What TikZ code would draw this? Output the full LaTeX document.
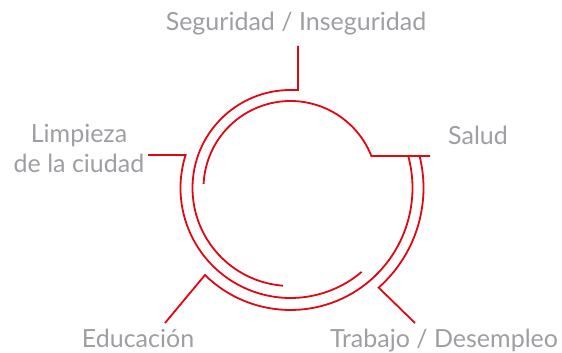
\documentclass[tikz,border=0pt]{standalone}
\usepackage{fontspec}
\setmainfont{Lato}
\usetikzlibrary{calc}
\definecolor{ringred}{RGB}{227,6,19}
\definecolor{labelgrey}{RGB}{158,158,163}
\begin{document}
\begin{tikzpicture}[x=1pt,y=1pt,
  ring/.style={draw=ringred, line width=1.8pt},
  lbl/.style={text=labelgrey, font=\fontsize{25}{30}\selectfont, inner sep=0pt, anchor=base}]
\useasboundingbox (0,0) rectangle (562,353);
\coordinate (c) at (290.5,165);
% labels
\node[lbl] (seg) at (296,322) {Seguridad / Inseguridad};
\node[lbl] (limpA) at (79,210) {Limpieza};
\node[lbl] (limpB) at (79,180) {de la ciudad};
\node[lbl] (salud) at (478,208) {Salud};
\node[lbl] (edu) at (138,5) {Educación};
\node[lbl] (trab) at (444,5) {Trabajo / Desempleo};
% anchor points of the leader lines
\coordinate (segTop) at (298,307);
\coordinate (segCorner) at (298,263);
\coordinate (mTop) at ($(c)+(90:98)$);
\coordinate (saludEnd) at (430,197);
\coordinate (iS) at ($(c)+(21.6:87)$);
\coordinate (limpEnd) at (148,198);
\coordinate (oS) at ($(c)+(162.5:110)$);
\coordinate (eduEnd) at (165,30);
\coordinate (eS) at ($(c)+(225.5:122)$);
\coordinate (trabEnd) at (415,30);
\coordinate (tS) at ($(c)+(311.5:133)$);
% rings
\draw[ring] (segTop) -- (segCorner) -- (mTop) arc[start angle=90, end angle=265.6, radius=98];
\draw[ring] (saludEnd) -- (iS) arc[start angle=21.6, end angle=177.3, radius=87];
\draw[ring] (limpEnd) -- (oS) arc[start angle=162.5, end angle=310.3, radius=110];
\draw[ring] (eduEnd) -- (eS) arc[start angle=225.5, end angle=375.2, radius=122];
\draw[ring] (trabEnd) -- (tS) arc[start angle=311.5, end angle=373.9, radius=133];
\end{tikzpicture}
\end{document}
